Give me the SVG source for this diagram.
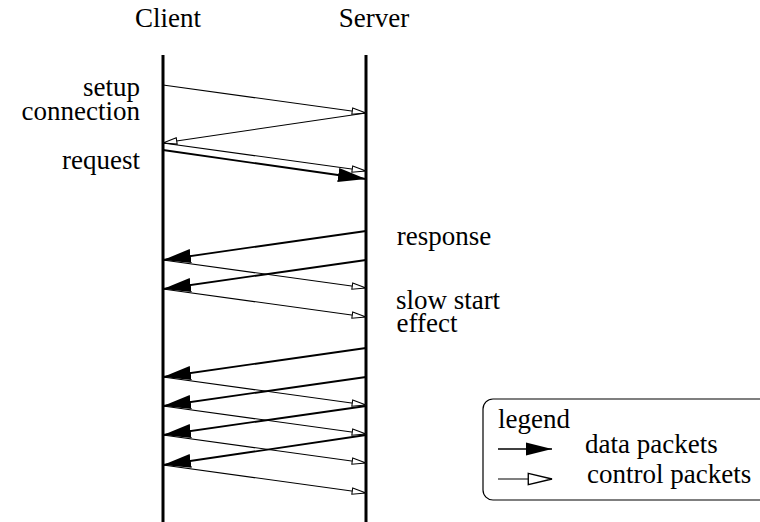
<svg xmlns="http://www.w3.org/2000/svg" width="760" height="522" viewBox="0 0 760 522">
<style>
text{font-size:27px;fill:#000}
.t{font-family:"Liberation Serif",serif}
.life{stroke:#000;stroke-width:3}
.ctl{stroke:#000;stroke-width:1.1;fill:none;marker-end:url(#open)}
.dat{stroke:#000;stroke-width:1.8;fill:none;marker-end:url(#filled)}
</style>
<defs>
<marker id="open" markerUnits="userSpaceOnUse" markerWidth="16" markerHeight="10" viewBox="-1 -4 15 8" refX="13" refY="0" orient="auto">
<path d="M0,-3 L13,0 L0,3 Z" fill="#fff" stroke="#000" stroke-width="1"/>
</marker>
<marker id="openL" markerUnits="userSpaceOnUse" markerWidth="26" markerHeight="14" viewBox="-1 -6 23 12" refX="21" refY="0" orient="auto">
<path d="M0,-5 L21,0 L0,5 Z" fill="#fff" stroke="#000" stroke-width="1.2"/>
</marker>
<marker id="filled" markerUnits="userSpaceOnUse" markerWidth="28" markerHeight="16" viewBox="0 -7 26 14" refX="26" refY="0" orient="auto">
<path d="M0,-6.5 L26,0 L0,6.5 Z" fill="#000"/>
</marker>
<marker id="filledL" markerUnits="userSpaceOnUse" markerWidth="26" markerHeight="16" viewBox="0 -7 24 14" refX="24" refY="0" orient="auto">
<path d="M0,-6 L24,0 L0,6 Z" fill="#000"/>
</marker>
</defs>
<g id="client">
<text x="168" y="27" text-anchor="middle" font-family="Liberation Serif, serif">Client</text>
<line class="life" x1="163" y1="55" x2="163" y2="522"/>
</g>
<g id="server">
<text x="374" y="27" text-anchor="middle" font-family="Liberation Serif, serif">Server</text>
<line class="life" x1="366" y1="55" x2="366" y2="522"/>
</g>
<g id="label-setup">
<text x="140" y="96" text-anchor="end" font-family="Liberation Serif">setup</text>
<text x="140" y="120" text-anchor="end" font-family="Liberation Serif">connection</text>
</g>
<g id="label-request">
<text x="140" y="169" text-anchor="end" font-family="Liberation Serif">request</text>
</g>
<g id="label-response">
<text x="444" y="245" text-anchor="middle" font-family="Liberation Serif, serif">response</text>
</g>
<g id="label-slowstart">
<text x="448" y="309" text-anchor="middle" font-family="Liberation Serif, serif">slow start</text>
<text x="427" y="332" text-anchor="middle" font-family="Liberation Serif, serif">effect</text>
</g>
<g id="connectors">
<line class="ctl" x1="163" y1="85" x2="366" y2="113"/>
<line class="ctl" x1="366" y1="113" x2="163" y2="143"/>
<line class="ctl" x1="163" y1="143" x2="366" y2="171"/>
<line class="dat" x1="163" y1="150" x2="366" y2="179"/>
<line class="dat" x1="366" y1="231" x2="163" y2="260"/>
<line class="ctl" x1="163" y1="260" x2="366" y2="288"/>
<line class="dat" x1="366" y1="260" x2="163" y2="289"/>
<line class="ctl" x1="163" y1="289" x2="366" y2="317"/>
<line class="dat" x1="366" y1="348" x2="163" y2="377"/>
<line class="ctl" x1="163" y1="377" x2="366" y2="405"/>
<line class="dat" x1="366" y1="377" x2="163" y2="406"/>
<line class="ctl" x1="163" y1="406" x2="366" y2="434"/>
<line class="dat" x1="366" y1="406" x2="163" y2="435"/>
<line class="ctl" x1="163" y1="435" x2="366" y2="463"/>
<line class="dat" x1="366" y1="435" x2="163" y2="465"/>
<line class="ctl" x1="163" y1="465" x2="366" y2="493"/>
</g>
<g id="legend">
<rect x="483" y="399" width="300" height="101" rx="10" ry="10" fill="none" stroke="#000" stroke-width="1.2"/>
<text class="t" x="498" y="428">legend</text>
<line x1="498" y1="449" x2="552" y2="449" stroke="#000" stroke-width="1.5" marker-end="url(#filledL)"/>
<text class="t" x="585" y="453">data packets</text>
<line x1="498" y1="479" x2="552" y2="479" stroke="#000" stroke-width="1.2" marker-end="url(#openL)"/>
<text class="t" x="587" y="483">control packets</text>
</g>
</svg>
